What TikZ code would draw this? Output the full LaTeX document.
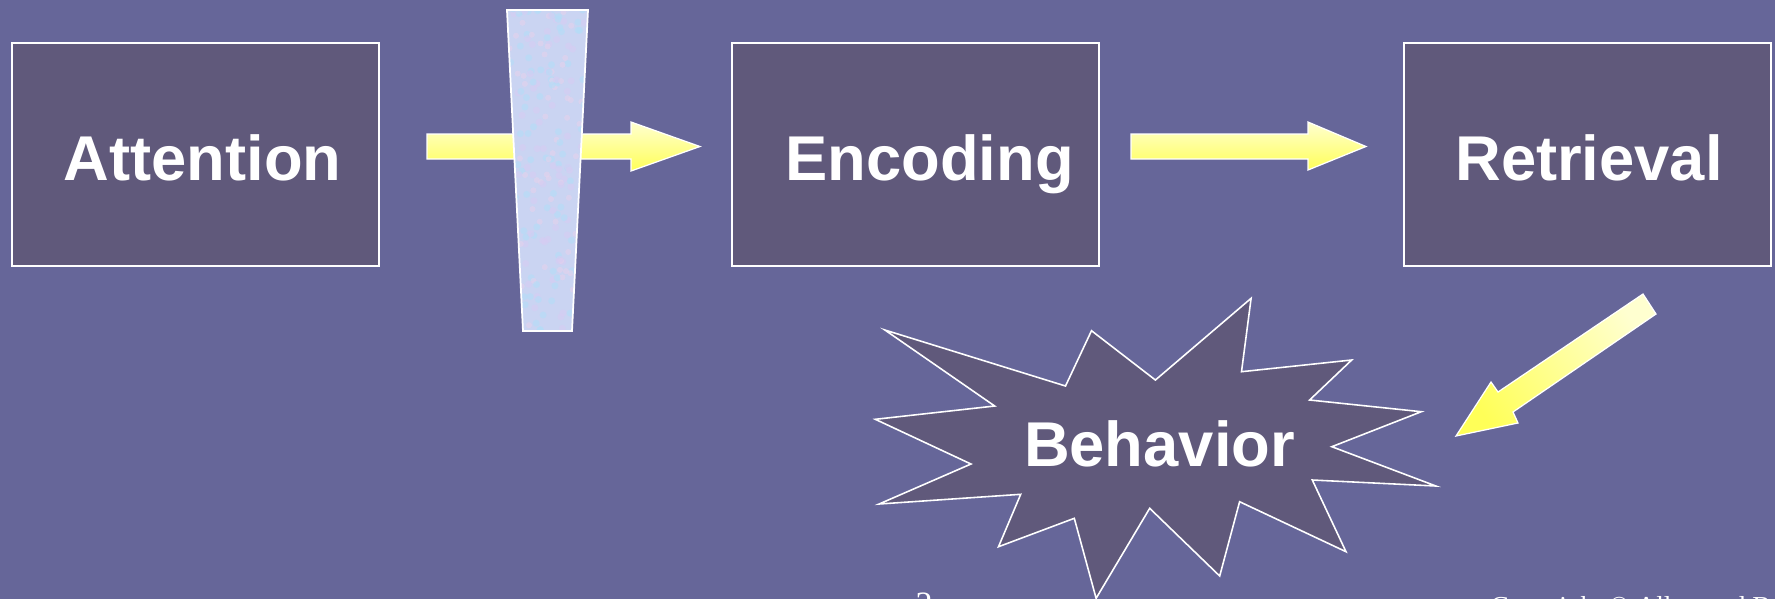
\documentclass[tikz,border=0pt]{standalone}
\usepackage{fontspec}
\setmainfont{Liberation Sans}
\newfontfamily\footfont{Liberation Serif}

\definecolor{slidebg}{RGB}{102,102,153}
\definecolor{boxfill}{RGB}{96,89,123}
\definecolor{paleyellow}{RGB}{255,255,208}
\definecolor{deepyellow}{RGB}{255,255,88}
\definecolor{filterbase}{RGB}{202,212,242}
\definecolor{fcyan}{RGB}{178,222,248}
\definecolor{flav}{RGB}{214,204,242}
\definecolor{fpink}{RGB}{232,210,236}

\tikzset{
  stage/.style={draw=white, line width=0.55pt, fill=boxfill,
    minimum width=3.67cm, minimum height=2.23cm, inner sep=0pt},
  stagetext/.style={text=white, font=\fontsize{18}{20}\selectfont\bfseries,
    anchor=base, inner sep=0pt},
  blockarrow/.style={draw=white, line width=0.35pt, line join=miter,
    top color=paleyellow, bottom color=deepyellow},
  burst/.style={draw=white, line width=0.45pt, fill=boxfill, line join=miter},
  footer/.style={text=white, anchor=base west, inner sep=0pt},
}

\begin{document}
\begin{tikzpicture}[x=0.01cm, y=-0.01cm]
  % canvas
  \useasboundingbox (0,0) rectangle (1775,599);
  \clip (0,0) rectangle (1775,599);
  \fill[slidebg] (0,0) rectangle (1775,599);

  % the three stages
  \node[stage] (att) at (195.5,154.5) {};
  \node[stage] (enc) at (915.5,154.5) {};
  \node[stage] (ret) at (1587.5,154.5) {};
  \node[stagetext] (attlabel) at (202.5,180) {Attention};
  \node[stagetext] (enclabel) at (929.5,180) {Encoding};
  \node[stagetext] (retlabel) at (1589,180) {Retrieval};

  % block arrows between the stages
  \draw[blockarrow] (427,134) -- (631,134) -- (631,122) -- (700,146.5)
    -- (631,171) -- (631,159) -- (427,159) -- cycle;
  \draw[blockarrow] (1131,134) -- (1308,134) -- (1308,122) -- (1366,146.5)
    -- (1308,170) -- (1308,159) -- (1131,159) -- cycle;
  \draw[draw=white, line width=0.35pt, line join=miter,
        top color=paleyellow, bottom color=deepyellow, shading angle=-56]
    (1643,294) -- (1656,314) -- (1513,412) -- (1518,423) -- (1456,436)
    -- (1491,382) -- (1498,392) -- cycle;

  % the filter bar across the first arrow
  \begin{scope}
    \clip (507,10) -- (588,10) -- (572,331) -- (523,331) -- cycle;
    \fill[filterbase] (500,0) rectangle (600,340);
    \pgfmathsetseed{11}
    \foreach \i in {1,...,260} {
      \pgfmathsetmacro{\rx}{505+85*rnd}
      \pgfmathsetmacro{\ry}{8+326*rnd}
      \pgfmathsetmacro{\rc}{int(3*rnd)}
      \ifcase\rc
        \fill[fcyan, opacity=0.55] (\rx,\ry) circle (0.035cm);
      \or
        \fill[flav, opacity=0.6] (\rx,\ry) circle (0.035cm);
      \else
        \fill[fpink, opacity=0.5] (\rx,\ry) circle (0.03cm);
      \fi
    }
  \end{scope}
  \draw[white, line width=0.5pt, line join=miter]
    (507,10) -- (588,10) -- (572,331) -- (523,331) -- cycle;

  % behaviour burst
  \draw[burst]
    (884.9,330.0) -- (1065.5,386.0) -- (1091.5,330.7) -- (1155.4,380.0)
    -- (1251.1,298.3) -- (1241.5,371.7) -- (1351.7,360.0) -- (1309.6,400.0)
    -- (1421.3,411.7) -- (1331.8,446.7) -- (1435.9,486.0) -- (1312.3,480.0)
    -- (1346.0,551.7) -- (1239.6,501.7) -- (1219.7,576.0) -- (1149.7,508.3)
    -- (1096.1,598.3) -- (1074.3,518.3) -- (998.5,546.7) -- (1020.7,494.3)
    -- (879.1,504.0) -- (971.0,464.0) -- (875.3,419.3) -- (994.7,406.0)
    -- cycle;
  \node[stagetext] (behlabel) at (1159.5,466.7) {Behavior};

  % footer
  \node[footer, font=\footfont\fontsize{9.7}{11}\selectfont] (pagenum) at (915,615) {2};
  \node[footer, font=\footfont\fontsize{7.8}{9}\selectfont] (copy) at (1490,615)
    {Copyright © Allyn and Bacon 2005};
\end{tikzpicture}
\end{document}
